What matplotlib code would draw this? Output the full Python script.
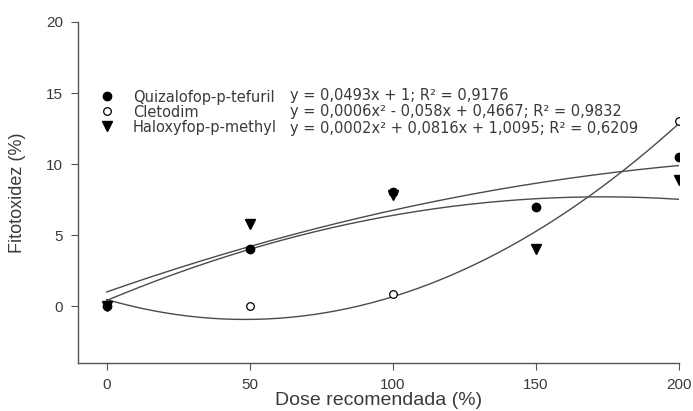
import numpy as np
import matplotlib
matplotlib.use("Agg")
import matplotlib.pyplot as plt
from matplotlib.lines import Line2D

plt.rcParams['font.family'] = ['Liberation Sans', 'DejaVu Sans']

# dose (%) e fitotoxidez (%) observada
doses = [0, 50, 100, 150, 200]
quizalofop = [0.0, 4.0, 8.0, 7.0, 10.5]
cletodim_x = [0, 50, 100, 200]
cletodim = [0.1, 0.0, 0.85, 13.0]
haloxyfop = [0.0, 5.75, 7.8, 4.0, 8.9]

nomes = ["Quizalofop-p-tefuril", "Cletodim", "Haloxyfop-p-methyl"]
equacoes = ["y = 0,0493x + 1; R² = 0,9176",
            "y = 0,0006x² - 0,058x + 0,4667; R² = 0,9832",
            "y = 0,0002x² + 0,0816x + 1,0095; R² = 0,6209"]

# curvas como aparecem desenhadas (a, b, c de a*x^2 + b*x + c)
coef_quiz = (-0.00013, 0.0705, 1.0)
coef_clet = (0.0006, -0.058, 0.4667)
coef_halo = (-0.000243, 0.0842, 0.4)

cor_txt = "#3a3a3a"
cor_lin = "#4a4a4a"
fs_leg = 10.5
fam_leg = ['DejaVu Sans']

fig = plt.figure(figsize=(6.93, 4.11), dpi=100)
ax = fig.add_axes([0.1126, 0.1168, 0.98 - 0.1126, 0.9465 - 0.1168])

xx = np.linspace(0, 200, 200)
for a, b, c in (coef_quiz, coef_clet, coef_halo):
    ax.plot(xx, a * xx**2 + b * xx + c, color=cor_lin, lw=1.0)

ax.plot(doses, quizalofop, 'o', color='black', ms=6, ls='none')
ax.plot(cletodim_x, cletodim, 'o', mfc='white', mec='black', mew=0.9, ms=5.5, ls='none')
ax.plot(doses, haloxyfop, 'v', color='black', ms=7, ls='none')

handles = [Line2D([], [], marker='o', color='black', ls='none', ms=6),
           Line2D([], [], marker='o', mfc='white', mec='black', mew=0.9, ls='none', ms=5.5),
           Line2D([], [], marker='v', color='black', ls='none', ms=7)]
leg = ax.legend(handles, nomes, loc='center left', bbox_to_anchor=(0.0266, 0.736),
                frameon=False, prop={'family': fam_leg, 'size': fs_leg},
                handletextpad=1.27, labelspacing=0.0, borderaxespad=0, handlelength=1.0)
for t in leg.get_texts():
    t.set_color(cor_txt)

for i, eq in enumerate(equacoes):
    ax.text(64, 14.86 - i * 1.19, eq, fontsize=fs_leg, family=fam_leg,
            color=cor_txt, va='center', ha='left')

ax.set_xlim(-10, 200)
ax.set_ylim(-4, 20)
ax.set_xticks([0, 50, 100, 150, 200])
ax.set_yticks([0, 5, 10, 15, 20])
ax.spines['top'].set_visible(False)
ax.spines['right'].set_visible(False)
for s in ('left', 'bottom'):
    ax.spines[s].set_color('#555555')
    ax.spines[s].set_linewidth(1.0)
ax.tick_params(direction='out', length=5, pad=6, color='#555555', labelsize=11, labelcolor=cor_txt)
ax.set_xlabel("Dose recomendada (%)", fontsize=14, color=cor_txt, labelpad=0)
ax.set_ylabel("Fitotoxidez (%)", fontsize=13, color=cor_txt, labelpad=14)

fig.savefig("out.png", dpi=100)
